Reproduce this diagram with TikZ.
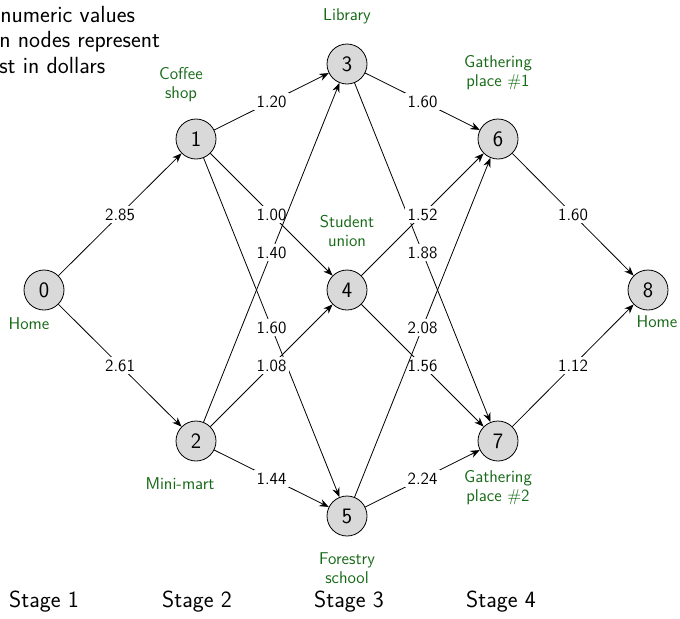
\documentclass[tikz,border=0pt]{standalone}
\usetikzlibrary{arrows.meta}
\definecolor{placegreen}{RGB}{22,105,22}
\begin{document}
\begin{tikzpicture}[x=0.75pt,y=-0.75pt,
  vert/.style={circle,draw,line width=0.6pt,fill=gray!30,minimum size=30pt,inner sep=0pt,
    font=\sffamily\fontsize{16.5}{19}\selectfont},
  place/.style={text=placegreen,align=center,inner sep=0pt,
    font=\sffamily\fontsize{12.8}{14.4}\selectfont},
  wt/.style={fill=white,inner sep=1.7pt,font=\sffamily\fontsize{12.8}{14}\selectfont},
  arc/.style={line width=0.6pt,-{Stealth[length=7pt,width=5.5pt]}},
  bigtext/.style={inner sep=0pt,font=\sffamily\fontsize{17.5}{20}\selectfont}]
\useasboundingbox (0,0) rectangle (680,618);

% top-left note
\node[bigtext,anchor=base west] (t1) at (0,22.5) {numeric values};
\node[bigtext,anchor=base west] (t2) at (-1,47.5) {n nodes represent};
\node[bigtext,anchor=base west] (t3) at (-1,73) {st in dollars};

% vertices
\node[vert] (n0) at (44,290) {0};
\node[vert] (n1) at (196,139) {1};
\node[vert] (n2) at (196,441) {2};
\node[vert] (n3) at (347,64) {3};
\node[vert] (n4) at (347,290) {4};
\node[vert] (n5) at (347,516) {5};
\node[vert] (n6) at (498,139) {6};
\node[vert] (n7) at (498,441) {7};
\node[vert] (n8) at (648,290) {8};

% place names
\node[place] (p0) at (29,324) {Home};
\node[place] (p1) at (181,85) {Coffee\\shop};
\node[place] (p2) at (180,484) {Mini-mart};
\node[place] (p3) at (347,16) {Library};
\node[place] (p4) at (347,231) {Student\\union};
\node[place] (p5) at (347,568) {Forestry\\school};
\node[place] (p6) at (498,73) {Gathering\\place \#1};
\node[place] (p7) at (498,488) {Gathering\\place \#2};
\node[place] (p8) at (657,322) {Home};

% stages
\node[bigtext,anchor=base] (s1) at (44,607) {Stage 1};
\node[bigtext,anchor=base] (s2) at (197,607) {Stage 2};
\node[bigtext,anchor=base] (s3) at (349,607) {Stage 3};
\node[bigtext,anchor=base] (s4) at (501,607) {Stage 4};

% arcs
\draw[arc] (n0) -- node[wt]{2.85} (n1);
\draw[arc] (n0) -- node[wt]{2.61} (n2);
\draw[arc] (n1) -- node[wt]{1.20} (n3);
\draw[arc] (n1) -- node[wt]{1.00} (n4);
\draw[arc] (n1) -- node[wt]{1.60} (n5);
\draw[arc] (n2) -- node[wt]{1.40} (n3);
\draw[arc] (n2) -- node[wt]{1.08} (n4);
\draw[arc] (n2) -- node[wt]{1.44} (n5);
\draw[arc] (n3) -- node[wt]{1.60} (n6);
\draw[arc] (n3) -- node[wt]{1.88} (n7);
\draw[arc] (n4) -- node[wt]{1.52} (n6);
\draw[arc] (n4) -- node[wt]{1.56} (n7);
\draw[arc] (n5) -- node[wt]{2.08} (n6);
\draw[arc] (n5) -- node[wt]{2.24} (n7);
\draw[arc] (n6) -- node[wt]{1.60} (n8);
\draw[arc] (n7) -- node[wt]{1.12} (n8);
\end{tikzpicture}
\end{document}
